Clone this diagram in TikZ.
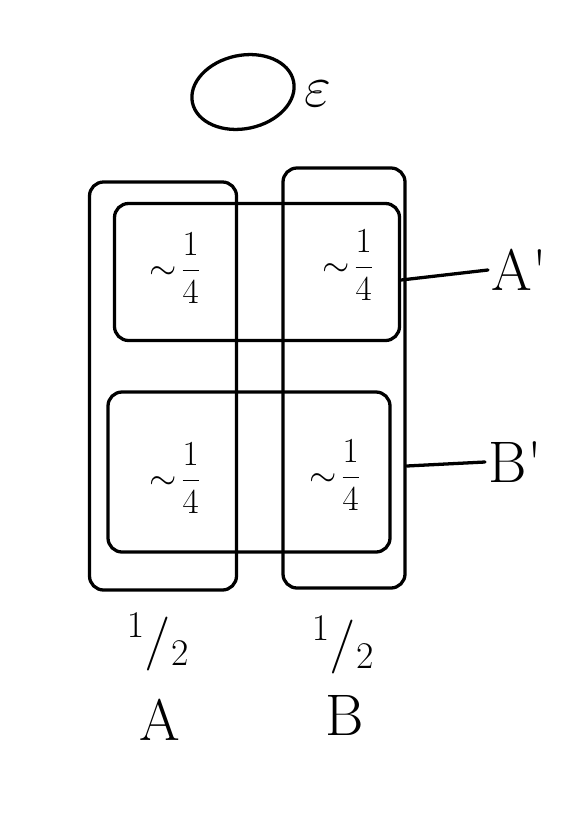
\RequirePackage{fix-cm}
\documentclass[tikz,border=0pt]{standalone}
\usetikzlibrary{positioning,shapes.geometric}
\begin{document}
\begin{tikzpicture}[x=0.03cm, y=-0.03cm,
  pen/.style={line width=2.8pt, line cap=round, line join=round},
  part/.style={pen, draw, rounded corners=12pt, inner sep=0pt},
  share/.style={font=\fontsize{30}{32}\selectfont, inner sep=0pt},
  half/.style={font=\fontsize{46}{50}\selectfont, inner sep=0pt},
  tag/.style={font=\fontsize{50}{54}\selectfont, inner sep=3pt},
]
  \useasboundingbox (0,0) rectangle (579,813);

  % sample space
  \node[pen, draw, ellipse, rotate=12, minimum width=3.1cm, minimum height=2.2cm] (omega) at (243,92) {};
  \node[tag] (eps) at (318,94) {$\varepsilon$};

  % the two columns
  \node[part, minimum width=4.41cm, minimum height=12.24cm] (colA) at (163,386) {};
  \node[part, minimum width=3.66cm, minimum height=12.6cm] (colB) at (344,378) {};

  % the two rows
  \node[part, minimum width=8.55cm, minimum height=4.11cm] (rowA) at (257,272) {};
  \node[part, minimum width=8.46cm, minimum height=4.8cm] (rowB) at (249,472) {};

  % cells
  \node[share] (aa) at (175,268) {$\displaystyle\sim\!\frac{1}{4}$};
  \node[share] (ba) at (348,265) {$\displaystyle\sim\!\frac{1}{4}$};
  \node[share] (ab) at (175,478) {$\displaystyle\sim\!\frac{1}{4}$};
  \node[share] (bb) at (335,475) {$\displaystyle\sim\!\frac{1}{4}$};

  % row labels
  \node[tag, anchor=west] (lA) at (488,270) {A\textquotesingle};
  \node[tag, anchor=west] (lB) at (485,462) {B\textquotesingle};
  \draw[pen] (rowA.east |- 0,280) -- (lA.west);
  \draw[pen] (colB.east |- 0,466) -- (lB.west);

  % column labels
  \node[half] (hA) at (158,642) {$^1/_2$};
  \node[half] (hB) at (343,645) {$^1/_2$};
  \node[tag] (nA) at (160,720) {A};
  \node[tag] (nB) at (345,715) {B};
\end{tikzpicture}
\end{document}
